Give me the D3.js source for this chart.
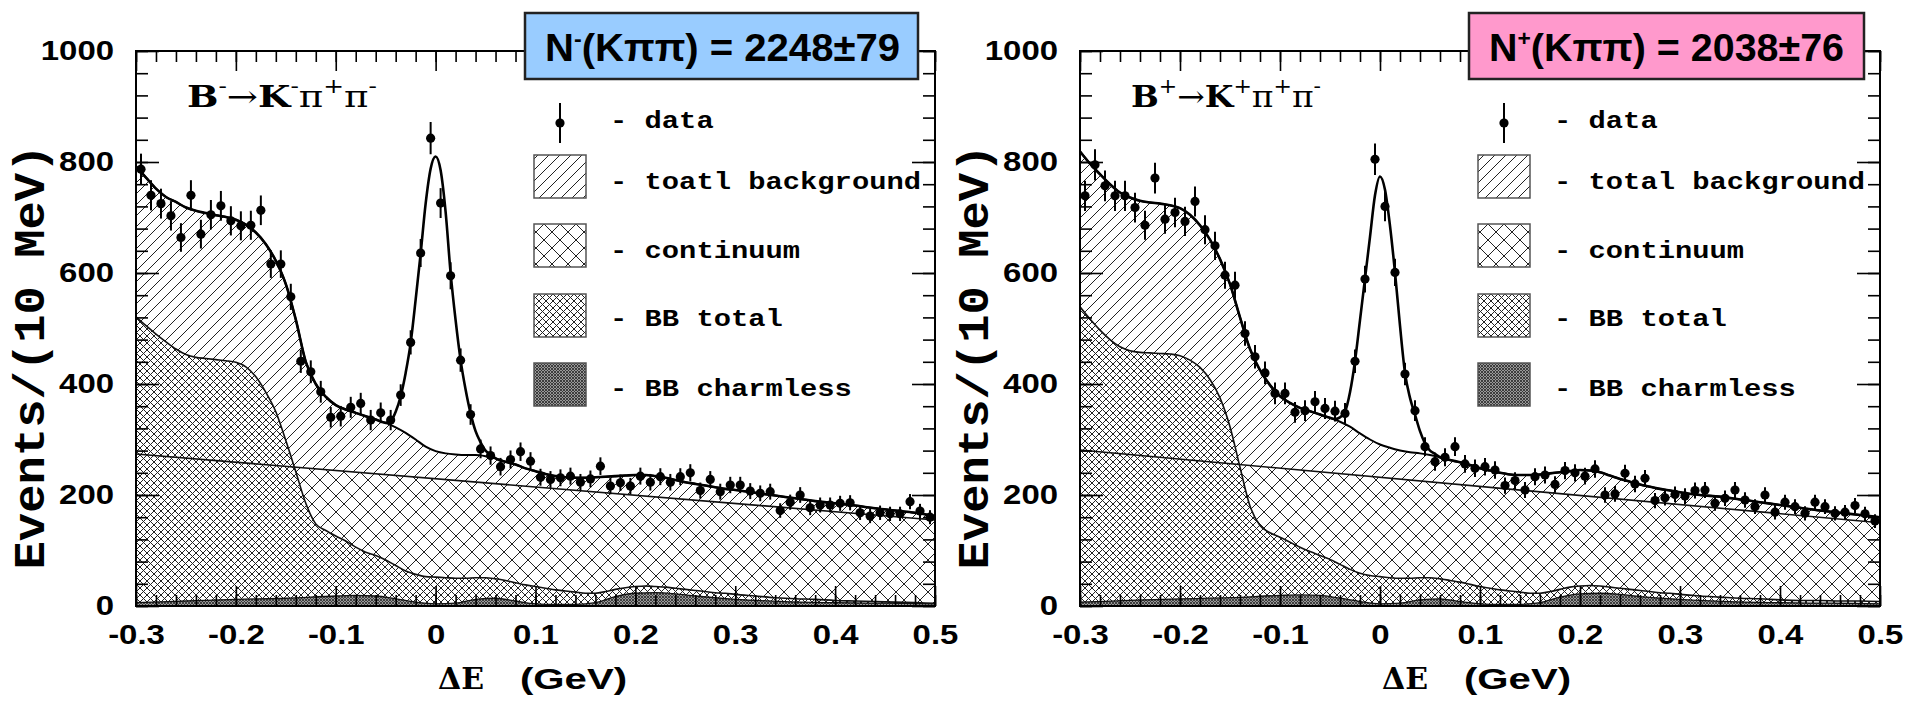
<!DOCTYPE html>
<html><head><meta charset="utf-8">
<script src="https://d3js.org/d3.v7.min.js"></script>
<style>html,body{margin:0;padding:0;background:#fff;} svg{display:block;}</style>
</head><body>
<svg id="chart" width="1905" height="705" xmlns="http://www.w3.org/2000/svg"></svg>
<script>
// ---------------- DATA ----------------
const binStart = -0.295, binWidth = 0.01;   // 10 MeV bins, centres
const leftCounts = [787,740,725,703,664,740,670,705,721,694,
  685,686,713,616,616,557,441,422,386,340,
  342,358,365,335,348,335,380,475,636,843,
  726,595,443,345,283,271,251,264,278,261,
  232,228,231,234,223,229,252,216,222,216,
  234,223,233,223,233,240,208,228,206,218,
  218,207,203,206,172,187,200,177,182,182,
  185,186,168,162,168,166,166,188,171,160];
const rightCounts = [739,795,757,739,739,718,686,771,697,709,
  693,729,678,649,596,578,491,449,420,383,
  383,349,352,368,356,351,347,441,589,805,
  720,601,418,352,287,260,268,287,256,248,
  251,245,217,226,209,233,236,219,244,240,
  234,247,200,202,239,220,230,190,195,201,
  198,208,209,185,194,209,191,179,200,169,
  187,179,167,187,179,167,169,181,166,153];

const curveX = [-0.30,-0.29,-0.28,-0.27,-0.26,-0.25,-0.24,-0.23,-0.22,-0.21,
  -0.20,-0.19,-0.18,-0.17,-0.16,-0.15,-0.14,-0.13,-0.12,-0.11,
  -0.10,-0.09,-0.08,-0.07,-0.06,-0.05,-0.04,-0.03,-0.02,-0.01,
  0.00,0.01,0.02,0.03,0.04,0.05,0.06,0.07,0.08,0.09,
  0.10,0.11,0.12,0.13,0.14,0.15,0.16,0.17,0.18,0.19,
  0.20,0.21,0.22,0.23,0.24,0.25,0.26,0.27,0.28,0.29,0.30,
  0.32,0.34,0.36,0.38,0.40,0.42,0.44,0.46,0.48,0.50];
const leftBg = [792,772,752,737,728,718,712,708,704,701,
  696,687,673,652,622,580,516,440,400,377,
  362,354,348,342,336,330,322,312,300,287,
  279,275,273,272,272,270,266,260,255,248,
  243,238,234,232,231,231,232,233,234,235,
  236,236,234,231,227,223,220,217,214,211,209,
  204,199,194,189,185,181,176,172,168,162];
const rightBg = [819,797,778,760,745,736,730,727,725,722,
  717,705,686,660,625,580,520,463,425,398,
  378,366,357,351,345,339,332,323,311,300,
  291,285,280,277,275,272,268,263,259,254,
  248,244,240,237,236,236,237,239,241,243,
  245,244,241,235,229,224,219,215,211,208,205,
  200,197,192,187,182,177,172,168,164,160];
const leftBB = [521,505,490,476,463,453,448,446,444,442,
  439,431,413,385,350,298,242,185,148,136,
  126,117,106,97,91,83,73,63,57,53,
  52,51,50,50,51,51,49,46,42,38,
  35,32,29,27,25,23,23,26,30,33,
  35,36,35,34,32,30,28,26,24,23,21,
  18,15,13,12,10,9,8,7,6,5];
const rightBB = [539,517,497,480,467,460,457,456,455,454,
  451,443,430,408,375,323,250,180,145,132,
  124,115,106,98,91,84,75,66,59,55,
  53,51,50,50,51,51,49,46,43,39,
  35,32,29,27,25,23,23,26,30,34,
  36,37,36,34,32,30,28,26,24,23,21,
  18,16,14,13,11,10,10,9,9,8];

const charmX = [-0.30,-0.25,-0.20,-0.15,-0.10,-0.08,-0.06,-0.04,-0.02,0.00,0.02,0.04,0.06,0.08,
  0.10,0.12,0.14,0.16,0.18,0.20,0.22,0.24,0.26,0.30,0.35,0.40,0.45,0.50];
const leftCharm = [6,9,12,14,18,19,18,13,7,4,5,12,14,9,4,3,3,6,17,23,24,22,18,12,8,6,5,4];
const rightCharm = [7,10,13,15,19,20,19,14,8,4,5,11,13,8,4,3,3,6,16,22,23,21,17,12,8,6,5,4];

const peakX = [-0.045,-0.04,-0.035,-0.03,-0.025,-0.02,-0.015,-0.01,-0.005,0,0.005,0.01,0.015,0.02,0.025,0.03,0.035,0.04,0.045,0.05,0.055];
const leftPeak = [333,350,378,420,474,552,635,725,788,810,785,710,600,515,443,390,347,315,295,280,273];
const rightPeak = [337,340,350,385,441,515,590,665,740,774,750,685,601,505,420,375,345,315,293,280,274];

const contX = [-0.3, 0.5];
const leftCont = [274, 155];
const rightCont = [281, 150];

const xDomain = [-0.3, 0.5], yDomain = [0, 1000];
const xTickValues = [-0.3,-0.2,-0.1,0,0.1,0.2,0.3,0.4,0.5];
const xTickLabels = ['-0.3','-0.2','-0.1','0','0.1','0.2','0.3','0.4','0.5'];
const yTickValues = [0,200,400,600,800,1000];
const yTickLabels = ['0','200','400','600','800','1000'];
const yields = ['2248±79', '2038±76'];
const yieldSigns = ['-', '+'];
const legendLeft = ['- data','- toatl background','- continuum','- BB total','- BB charmless'];
const legendRight = ['- data','- total background','- continuum','- BB total','- BB charmless'];
const decayLeft = [['B',0],['-',1],['→',0],['K',0],['-',1],['π',0],['+',1],['π',0],['-',1]];
const decayRight = [['B',0],['+',1],['→',0],['K',0],['+',1],['π',0],['+',1],['π',0],['-',1]];
const yTitle = 'Events/(10 MeV)';

// ---------------- DRAWING ----------------
const svg = d3.select('#chart');
svg.append('rect').attr('width',1905).attr('height',705).attr('fill','#fff');
const defs = svg.append('defs');

function hatch(id, s, dirs, stroke, sw, bg) {
  const pat = defs.append('pattern').attr('id', id).attr('patternUnits','userSpaceOnUse')
    .attr('width', s).attr('height', s);
  pat.append('rect').attr('width', s).attr('height', s).attr('fill', bg);
  let d = '';
  if (dirs.includes('/')) d += `M0,${s}L${s},0M-1,1L1,-1M${s-1},${s+1}L${s+1},${s-1}`;
  if (dirs.includes('\\')) d += `M0,0L${s},${s}M${s-1},-1L${s+1},1M-1,${s-1}L1,${s+1}`;
  pat.append('path').attr('d', d).attr('stroke', stroke).attr('stroke-width', sw).attr('fill','none');
}
hatch('diagP', 11, '/', '#222', 1, '#fff');
hatch('crossP', 16, '/\\', '#222', 1, '#fff');
hatch('fineP', 7, '/\\', '#222', 1, '#fff');
hatch('denseP', 3, '/\\', '#333', 0.9, '#999');

const MONO = "'Liberation Mono','DejaVu Sans Mono',monospace";
const SERIF = "'DejaVu Serif','Liberation Serif',serif";
const SANS = "'Liberation Sans',Arial,sans-serif";
const NARROW = "'Liberation Sans Narrow','Liberation Sans',Arial,sans-serif";

const panels = [
  {id:'L', left:136, right:935, top:51, bottom:606, counts:leftCounts, bg:leftBg, bb:leftBB,
   charm:leftCharm, cont:leftCont, peak:leftPeak, box:[525,918], boxFill:'#99ccff',
   sign:yieldSigns[0], yieldText:yields[0], legend:legendLeft, decay:decayLeft},
  {id:'R', left:1080, right:1880, top:51, bottom:606, counts:rightCounts, bg:rightBg, bb:rightBB,
   charm:rightCharm, cont:rightCont, peak:rightPeak, box:[1469,1864], boxFill:'#ff99cc',
   sign:yieldSigns[1], yieldText:yields[1], legend:legendRight, decay:decayRight}
];

panels.forEach(p => {
  const x = d3.scaleLinear().domain(xDomain).range([p.left, p.right]);
  const y = d3.scaleLinear().domain(yDomain).range([p.bottom, p.top]);
  const g = svg.append('g');
  defs.append('clipPath').attr('id','clip'+p.id).append('rect')
    .attr('x',p.left).attr('y',p.top).attr('width',p.right-p.left).attr('height',p.bottom-p.top);
  const plot = g.append('g').attr('clip-path',`url(#clip${p.id})`);

  const sArea = d3.area().x(d=>x(d[0])).y0(y(0)).y1(d=>y(d[1])).curve(d3.curveMonotoneX);
  const sLine = d3.line().x(d=>x(d[0])).y(d=>y(d[1])).curve(d3.curveMonotoneX);
  const lArea = d3.area().x(d=>x(d[0])).y0(y(0)).y1(d=>y(d[1]));
  const lLine = d3.line().x(d=>x(d[0])).y(d=>y(d[1]));

  const bgPts = curveX.map((v,i)=>[v,p.bg[i]]);
  const bbPts = curveX.map((v,i)=>[v,p.bb[i]]);
  const chPts = charmX.map((v,i)=>[v,p.charm[i]]);
  const coPts = contX.map((v,i)=>[v,p.cont[i]]);
  const pkPts = peakX.map((v,i)=>[v,p.peak[i]]);
  const fitPts = bgPts.filter(d => d[0] < peakX[0]-1e-9 || d[0] > peakX[peakX.length-1]+1e-9)
    .concat(pkPts).sort((a,b)=>a[0]-b[0]);

  plot.append('path').datum(bgPts).attr('d',sArea).attr('fill','url(#diagP)');
  plot.append('path').datum(coPts).attr('d',lArea).attr('fill','url(#crossP)');
  plot.append('path').datum(bbPts).attr('d',sArea).attr('fill','url(#fineP)');
  plot.append('path').datum(chPts).attr('d',sArea).attr('fill','url(#denseP)');

  plot.append('path').datum(chPts).attr('d',sLine).attr('fill','none').attr('stroke','#111').attr('stroke-width',1.3);
  plot.append('path').datum(bbPts).attr('d',sLine).attr('fill','none').attr('stroke','#111').attr('stroke-width',1.6);
  plot.append('path').datum(coPts).attr('d',lLine).attr('fill','none').attr('stroke','#111').attr('stroke-width',1.6);
  plot.append('path').datum(bgPts).attr('d',sLine).attr('fill','none').attr('stroke','#000').attr('stroke-width',2);
  plot.append('path').datum(fitPts).attr('d',sLine).attr('fill','none').attr('stroke','#000').attr('stroke-width',2.6);

  // data points with Poisson error bars
  const pts = p.counts.map((c,i)=>({v: binStart + i*binWidth, c}));
  g.append('g').selectAll('line').data(pts).join('line')
    .attr('x1',d=>x(d.v)).attr('x2',d=>x(d.v))
    .attr('y1',d=>y(d.c - Math.sqrt(d.c))).attr('y2',d=>y(d.c + Math.sqrt(d.c)))
    .attr('stroke','#000').attr('stroke-width',2);
  g.append('g').selectAll('circle').data(pts).join('circle')
    .attr('cx',d=>x(d.v)).attr('cy',d=>y(d.c)).attr('r',4.6).attr('fill','#000');

  // axes (ticks inside)
  const minorX = d3.range(0,41).map(i => xDomain[0] + i*0.02);
  const minorY = d3.range(0,26).map(i => i*40);
  const styleAx = sel => { sel.select('.domain').remove(); sel.selectAll('line').attr('stroke','#000').attr('stroke-width',1.6); };
  const noLab = () => '';
  g.append('g').attr('transform',`translate(0,${p.bottom})`).call(d3.axisBottom(x).tickValues(minorX).tickFormat(noLab).tickSize(-11)).call(styleAx);
  g.append('g').attr('transform',`translate(0,${p.top})`).call(d3.axisTop(x).tickValues(minorX).tickFormat(noLab).tickSize(-11)).call(styleAx);
  g.append('g').attr('transform',`translate(${p.left},0)`).call(d3.axisLeft(y).tickValues(minorY).tickFormat(noLab).tickSize(-12)).call(styleAx);
  g.append('g').attr('transform',`translate(${p.right},0)`).call(d3.axisRight(y).tickValues(minorY).tickFormat(noLab).tickSize(-12)).call(styleAx);

  const gB = g.append('g').attr('transform',`translate(0,${p.bottom})`)
    .call(d3.axisBottom(x).tickValues(xTickValues).tickFormat((d,i)=>xTickLabels[i]).tickSize(-20).tickPadding(19)).call(styleAx);
  g.append('g').attr('transform',`translate(0,${p.top})`).call(d3.axisTop(x).tickValues(xTickValues).tickFormat(noLab).tickSize(-20)).call(styleAx);
  const gL = g.append('g').attr('transform',`translate(${p.left},0)`)
    .call(d3.axisLeft(y).tickValues(yTickValues).tickFormat((d,i)=>yTickLabels[i]).tickSize(-23).tickPadding(18)).call(styleAx);
  g.append('g').attr('transform',`translate(${p.right},0)`).call(d3.axisRight(y).tickValues(yTickValues).tickFormat(noLab).tickSize(-23)).call(styleAx);
  [gB, gL].forEach(a => a.selectAll('text').attr('font-family',SANS).attr('font-weight','bold')
    .attr('font-size',27).attr('fill','#000').attr('transform','scale(1.22,1)'));

  g.append('rect').attr('x',p.left).attr('y',p.top).attr('width',p.right-p.left).attr('height',p.bottom-p.top)
    .attr('fill','none').attr('stroke','#000').attr('stroke-width',2);

  // axis titles
  g.append('text').attr('transform',`translate(${p.left-92},357) rotate(-90) scale(1,1.1)`)
    .attr('text-anchor','middle').attr('font-family',MONO).attr('font-weight','bold').attr('font-size',40)
    .attr('textLength',425).attr('lengthAdjust','spacingAndGlyphs').text(yTitle);
  g.append('text').attr('x',p.left+302).attr('y',689).attr('font-family',SERIF).attr('font-weight','bold')
    .attr('font-size',30).attr('textLength',46).attr('lengthAdjust','spacingAndGlyphs').text('ΔE');
  g.append('text').attr('x',p.left+384).attr('y',689).attr('font-family',SANS).attr('font-weight','bold')
    .attr('font-size',29).attr('textLength',107).attr('lengthAdjust','spacingAndGlyphs').text('(GeV)');

  // decay label
  const dt = g.append('text').attr('x',p.left+51).attr('y',107).attr('font-family',SERIF)
    .attr('font-size',30).attr('textLength',190).attr('lengthAdjust','spacingAndGlyphs');
  let prevSup = 0;
  p.decay.forEach(([t,sup]) => {
    const dy = sup && !prevSup ? -14 : (!sup && prevSup ? 14 : 0);
    dt.append('tspan').attr('dy',dy).attr('font-size', sup ? 20 : 30).attr('font-weight', t==='B'||t==='K' ? 'bold' : 'normal').text(t);
    prevSup = sup;
  });

  // legend
  const lx = p.left + 398, tx = p.left + 474;
  g.append('line').attr('x1',p.left+424).attr('x2',p.left+424).attr('y1',103).attr('y2',143).attr('stroke','#000').attr('stroke-width',2);
  g.append('circle').attr('cx',p.left+424).attr('cy',123).attr('r',4.6).attr('fill','#000');
  const swTops = [155,224,294,363];
  const swFills = ['url(#diagP)','url(#crossP)','url(#fineP)','url(#denseP)'];
  swTops.forEach((t,i) => g.append('rect').attr('x',lx).attr('y',t).attr('width',52).attr('height',43)
    .attr('fill',swFills[i]).attr('stroke','#555').attr('stroke-width',1.5));
  const textBase = [128,189,258,326,396];
  p.legend.forEach((s,i) => g.append('text').attr('transform',`translate(${tx},${textBase[i]}) scale(1.2,1)`)
    .attr('font-family',MONO).attr('font-weight','bold').attr('font-size',24).attr('fill','#000').text(s));

  // yield box
  g.append('rect').attr('x',p.box[0]).attr('y',13).attr('width',p.box[1]-p.box[0]).attr('height',66)
    .attr('fill',p.boxFill).attr('stroke','#222').attr('stroke-width',2.5);
  const bt = g.append('text').attr('x',p.box[0]+20).attr('y',61).attr('font-family',NARROW).attr('font-weight','bold')
    .attr('font-size',38).attr('fill','#000').attr('textLength',355).attr('lengthAdjust','spacingAndGlyphs');
  bt.append('tspan').text('N');
  bt.append('tspan').attr('dy',-15).attr('font-size',22).text(p.sign);
  bt.append('tspan').attr('dy',15).text('(Kππ) = ' + p.yieldText);
});
</script>
</body></html>
